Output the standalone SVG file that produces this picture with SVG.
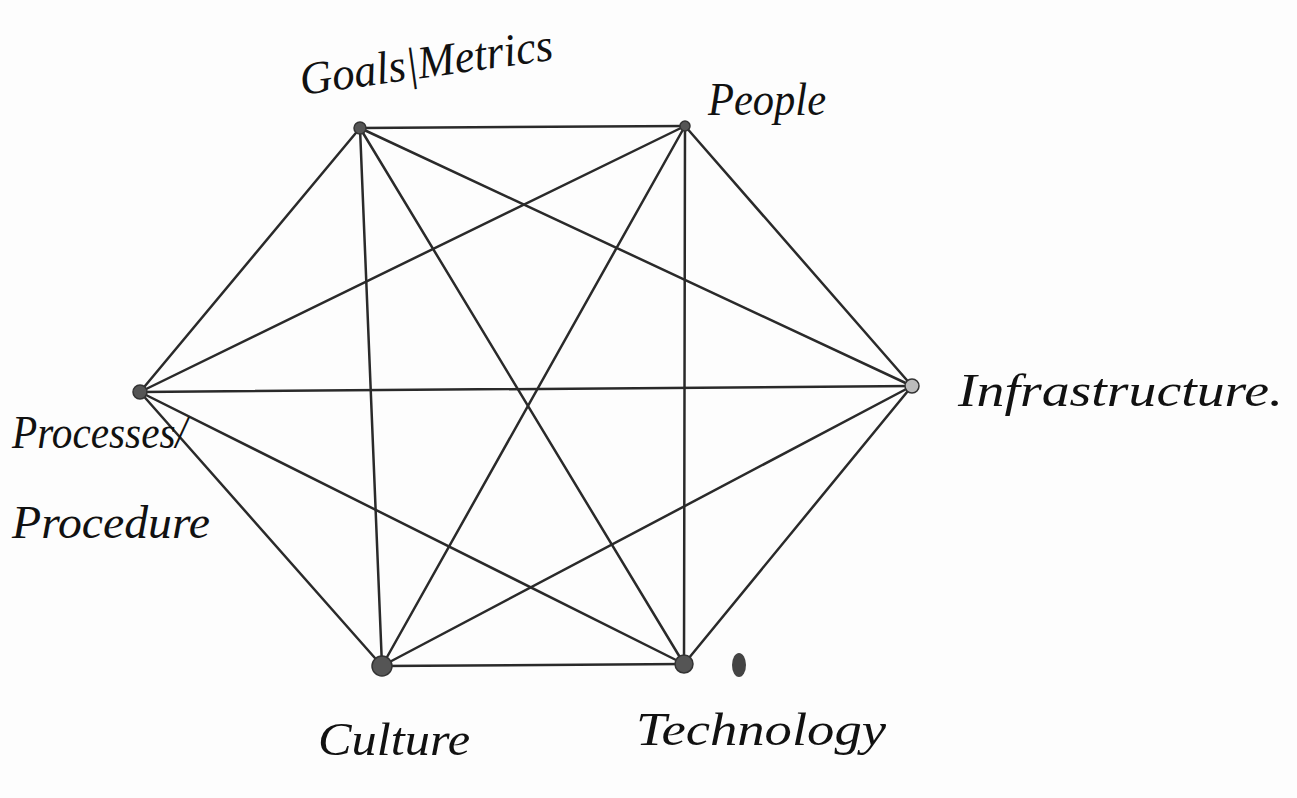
<svg xmlns="http://www.w3.org/2000/svg" width="1297" height="798" viewBox="0 0 1297 798">
<style>
.e{stroke:#2a2a2a;stroke-width:2.5;stroke-linecap:round;fill:none}
.n{fill:#555;stroke:#333;stroke-width:1.5}
.t{font-family:"Liberation Serif",serif;font-style:italic;fill:#111;font-size:46px}
</style>
<rect width="1297" height="798" fill="#fdfdfd"/>
<g id="connectors">
<line class="e" x1="360" y1="128" x2="685" y2="126"/>
<line class="e" x1="360" y1="128" x2="912" y2="386"/>
<line class="e" x1="360" y1="128" x2="140" y2="392"/>
<line class="e" x1="360" y1="128" x2="382" y2="666"/>
<line class="e" x1="360" y1="128" x2="684" y2="664"/>
<line class="e" x1="685" y1="126" x2="912" y2="386"/>
<line class="e" x1="685" y1="126" x2="140" y2="392"/>
<line class="e" x1="685" y1="126" x2="382" y2="666"/>
<line class="e" x1="685" y1="126" x2="684" y2="664"/>
<line class="e" x1="912" y1="386" x2="140" y2="392"/>
<line class="e" x1="912" y1="386" x2="382" y2="666"/>
<line class="e" x1="912" y1="386" x2="684" y2="664"/>
<line class="e" x1="140" y1="392" x2="382" y2="666"/>
<line class="e" x1="140" y1="392" x2="684" y2="664"/>
<line class="e" x1="382" y1="666" x2="684" y2="664"/>
</g>
<g id="goals">
<circle class="n" cx="360" cy="128" r="6"/>
<text class="t" x="302" y="95" textLength="255" lengthAdjust="spacingAndGlyphs" transform="rotate(-8 302 95)">Goals|Metrics</text>
</g>
<g id="people">
<circle class="n" cx="685" cy="126" r="5" fill="#999"/>
<text class="t" x="708" y="115" textLength="118" lengthAdjust="spacingAndGlyphs">People</text>
</g>
<g id="infrastructure">
<circle class="n" cx="912" cy="386" r="7" style="fill:#bbb"/>
<text class="t" x="958" y="406" textLength="325" lengthAdjust="spacingAndGlyphs">Infrastructure.</text>
</g>
<g id="processes">
<circle class="n" cx="140" cy="392" r="7"/>
<text class="t" x="12" y="448" textLength="175" lengthAdjust="spacingAndGlyphs">Processes/</text>
<text class="t" x="12" y="538" textLength="198" lengthAdjust="spacingAndGlyphs">Procedure</text>
</g>
<g id="culture">
<circle class="n" cx="382" cy="666" r="10"/>
<text class="t" x="318" y="755" textLength="152" lengthAdjust="spacingAndGlyphs">Culture</text>
</g>
<g id="technology">
<circle class="n" cx="684" cy="664" r="9"/>
<text class="t" x="636" y="745" textLength="250" lengthAdjust="spacingAndGlyphs">Technology</text>
</g>
<ellipse cx="739" cy="665" rx="7" ry="12" fill="#444"/>
</svg>
